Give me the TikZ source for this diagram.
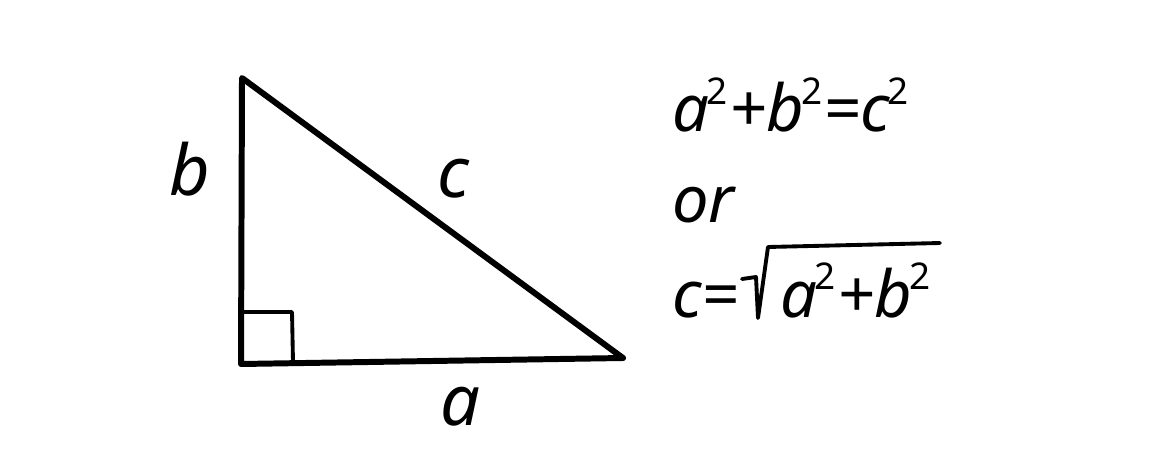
\documentclass[tikz,border=0pt]{standalone}
\usepackage{fontspec}
\setmainfont{Noto Sans}
\usetikzlibrary{positioning}
\newcommand{\handfont}{\fontsize{40}{48}\selectfont\itshape}
\newcommand{\formfont}{\fontsize{37}{44}\selectfont\itshape}
\newcommand{\sq}{\kern-0.04em\raisebox{0.42em}{\fontsize{21}{21}\selectfont\upshape 2}\kern0.02em}
\tikzset{
  side/.style={line width=3.4pt, line join=round, line cap=round},
  rightbox/.style={line width=2.2pt, line join=round},
  lbl/.style={font=\handfont, inner sep=0pt, anchor=base},
  formula/.style={font=\formfont, inner sep=0pt, anchor=base west}
}
\begin{document}
\begin{tikzpicture}[x=0.02cm, y=-0.02cm]
\useasboundingbox (0,0) rectangle (1152,476);
%Corners of the triangle
\coordinate (top) at (242,78);
\coordinate (corner) at (241,364);
\coordinate (right) at (623,358);
%The three sides
\draw[side] (top) -- (corner) -- (right) -- cycle;
%Right angle mark
\coordinate (boxleft) at (241,312);
\coordinate (boxtop) at (292,312);
\coordinate (boxbottom) at (293,362);
\draw[rightbox] (boxleft) -- (boxtop) -- (boxbottom);
%Side names
\node[lbl] (sideb) at (190,195) {b};
\node[lbl] (sidec) at (453,197) {c};
\node[lbl] (sidea) at (460,425) {a};
%The formulas
\node[formula] (pyth) at (672,132) {a\sq+b\sq=c\sq};
\node[formula] (or) at (672,222) {or};
\node[formula] (ceq) at (672,317) {c=};
%Root sign
\coordinate (rootA) at (742,279);
\coordinate (rootB) at (756,277);
\coordinate (rootC) at (758,318);
\coordinate (rootD) at (768,247);
\coordinate (rootE) at (940,243);
\draw[rightbox, line cap=round] (rootA) -- (rootB) -- (rootC) -- (rootD) -- (rootE);
\node[formula] (radicand) at (780,317) {a\sq+b\sq};
\end{tikzpicture}
\end{document}
